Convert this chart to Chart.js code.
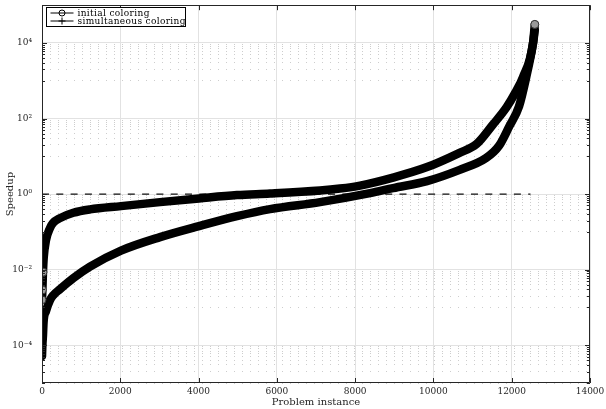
<!DOCTYPE html>
<html>
<head>
<meta charset="utf-8">
<script src="https://cdn.jsdelivr.net/npm/chart.js@4.4.1/dist/chart.umd.min.js"></script>
<style>
  html, body { margin: 0; padding: 0; background: #ffffff; }
  #wrap { width: 606px; height: 409px; }
</style>
</head>
<body>
<div id="wrap"><canvas id="c" width="606" height="409"></canvas></div>
<script>
// ---- data (sorted speedup per problem instance) ----
const instancesInitial = [0, 10, 25, 45, 102, 204, 281, 460, 800, 1226, 2018, 3015, 4011, 4982, 5825, 7103, 7614, 8125, 8968, 9837, 10654, 11102, 11511, 11870, 12085, 12290, 12545, 12590];
const speedupInitial   = [0.0016, 0.0029, 0.0086, 0.0214, 0.060, 0.126, 0.171, 0.231, 0.320, 0.393, 0.481, 0.614, 0.769, 0.941, 1.03, 1.24, 1.40, 1.68, 2.74, 5.19, 12.2, 21.1, 67.3, 200, 470, 1257, 10000, 31000];

const instancesSimultaneous = [0, 10, 25, 40, 102, 204, 289, 460, 800, 1226, 2018, 3015, 4011, 4982, 5825, 7103, 8380, 8968, 9837, 10654, 11344, 11676, 11931, 12187, 12366, 12545, 12590];
const speedupSimultaneous   = [0.000051, 0.00010, 0.000184, 0.000407, 0.000796, 0.00156, 0.00211, 0.00304, 0.00595, 0.0120, 0.0318, 0.0726, 0.142, 0.261, 0.401, 0.614, 1.06, 1.44, 2.21, 4.32, 8.99, 19.0, 60, 210, 1183, 10000, 22100];

const referenceX = [0, 12480];
const referenceY = [1, 1];

const seriesNames = ['initial coloring', 'simultaneous coloring'];
const axisTitleX = 'Problem instance';
const axisTitleY = 'Speedup';

const xTickValues = [0, 2000, 4000, 6000, 8000, 10000, 12000, 14000];
const yMajorTicks = [1e-4, 1e-2, 1, 1e2, 1e4];
const yMajorLabels = ['10\u207B\u2074', '10\u207B\u00B2', '10\u2070', '10\u00B2', '10\u2074'];
const yDecades = [-5, -4, -3, -2, -1, 0, 1, 2, 3, 4];
const ySignificands = [1, 2, 3, 4, 5, 6, 7, 8, 9];

// ---- helpers ----
const toPoints = (xs, ys) => xs.map((x, i) => ({ x: x, y: ys[i] }));
function classify(v) {
  const e = Math.floor(Math.log10(v) + 1e-9);
  const s = Math.round(v / Math.pow(10, e));
  return { e, s };
}
const isMajorY = v => { const c = classify(v); return c.s === 1 && Math.abs(c.e % 2) === 0; };
const isMinorY = v => { const c = classify(v); return Math.abs(c.e % 2) === 1; };
const yTickValues = [];
yDecades.forEach(e => ySignificands.forEach(s => yTickValues.push(Number(s + 'e' + e))));
yTickValues.push(1e5);

const FONT = 'DejaVu Serif';
const INK = '#262626';

const framePlugin = {
  id: 'frame',
  afterDraw(chart) {
    const { ctx, chartArea: a, scales } = chart;
    const x = scales.x, y = scales.y;
    ctx.save();
    ctx.strokeStyle = INK;
    ctx.lineWidth = 1;
    ctx.beginPath();
    ctx.rect(Math.round(a.left) + 0.5, Math.round(a.top) + 0.5, Math.round(a.width) - 1, Math.round(a.height) - 1);
    ctx.stroke();
    // inward tick marks
    ctx.beginPath();
    xTickValues.forEach(v => {
      const px = Math.round(x.getPixelForValue(v)) + 0.5;
      ctx.moveTo(px, a.bottom); ctx.lineTo(px, a.bottom - 5);
      ctx.moveTo(px, a.top); ctx.lineTo(px, a.top + 5);
    });
    yTickValues.forEach(v => {
      let len = 0;
      if (isMajorY(v)) len = 5; else if (isMinorY(v)) len = 3;
      if (!len) return;
      const py = Math.round(y.getPixelForValue(v)) + 0.5;
      ctx.moveTo(a.left, py); ctx.lineTo(a.left + len, py);
      ctx.moveTo(a.right, py); ctx.lineTo(a.right - len, py);
    });
    ctx.stroke();

    // legend box
    const bx = Math.round(a.left) + 4.5, by = Math.round(a.top) + 2.5, bw = 139, bh = 19;
    ctx.fillStyle = '#ffffff';
    ctx.fillRect(bx, by, bw, bh);
    ctx.strokeStyle = '#000000';
    ctx.strokeRect(bx, by, bw, bh);
    const rows = [by + 5.5, by + 13.5];
    ctx.font = '9px "' + FONT + '"';
    try { ctx.letterSpacing = '0.35px'; } catch (e) {}
    ctx.textBaseline = 'middle';
    ctx.textAlign = 'left';
    rows.forEach((ry, i) => {
      ctx.strokeStyle = '#000';
      ctx.lineWidth = 1;
      ctx.beginPath();
      ctx.moveTo(bx + 4, ry); ctx.lineTo(bx + 27, ry);
      ctx.stroke();
      const mx = bx + 15.5;
      ctx.beginPath();
      if (i === 0) {
        ctx.arc(mx, ry, 3, 0, Math.PI * 2);
      } else {
        ctx.moveTo(mx - 3.5, ry); ctx.lineTo(mx + 3.5, ry);
        ctx.moveTo(mx, ry - 3.5); ctx.lineTo(mx, ry + 3.5);
      }
      ctx.stroke();
      ctx.fillStyle = '#000';
      ctx.fillText(seriesNames[i], bx + 31, ry + 0.5);
    });
    ctx.restore();
  }
};

const endMarker = n => c => (c.dataIndex < 3 || c.dataIndex === n - 1) ? 4 : 0;

new Chart(document.getElementById('c').getContext('2d'), {
  type: 'line',
  data: {
    datasets: [
      {
        label: seriesNames[0],
        data: toPoints(instancesInitial, speedupInitial),
        borderColor: '#000000',
        backgroundColor: '#000000',
        borderWidth: 8.5,
        borderCapStyle: 'round',
        borderJoinStyle: 'round',
        cubicInterpolationMode: 'monotone',
        pointStyle: 'circle',
        pointRadius: endMarker(instancesInitial.length),
        pointBorderColor: '#333333',
        pointBackgroundColor: 'rgba(255,255,255,0.6)',
        pointBorderWidth: 1,
        fill: false
      },
      {
        label: seriesNames[1],
        data: toPoints(instancesSimultaneous, speedupSimultaneous),
        borderColor: '#000000',
        backgroundColor: '#000000',
        borderWidth: 8.5,
        borderCapStyle: 'round',
        borderJoinStyle: 'round',
        cubicInterpolationMode: 'monotone',
        pointStyle: 'cross',
        pointRadius: endMarker(instancesSimultaneous.length),
        pointBorderColor: '#000000',
        pointBorderWidth: 1.2,
        fill: false
      },
      {
        label: 'reference',
        data: toPoints(referenceX, referenceY),
        borderColor: '#111111',
        borderWidth: 1.4,
        borderDash: [7, 7.3],
        pointRadius: 0,
        fill: false
      }
    ]
  },
  options: {
    responsive: false,
    animation: false,
    devicePixelRatio: 1,
    layout: { padding: { top: 5, right: 16, left: 0, bottom: 0 } },
    plugins: { legend: { display: false }, tooltip: { enabled: false } },
    scales: {
      x: {
        type: 'linear',
        min: 0,
        max: 14000,
        afterBuildTicks: s => { s.ticks = xTickValues.map(v => ({ value: v })); },
        afterFit: s => { s.height = 26; s.paddingLeft = 0; s.paddingRight = 0; },
        ticks: {
          autoSkip: false, maxRotation: 0, padding: 3, color: INK,
          font: { family: FONT, size: 9 },
          callback: v => String(v)
        },
        grid: { color: '#e2e2e2', lineWidth: 1, drawTicks: false },
        border: { display: false },
        title: {
          display: true, text: axisTitleX, color: INK,
          font: { family: FONT, size: 10 },
          padding: { top: 0, bottom: 1 }
        }
      },
      y: {
        type: 'logarithmic',
        min: 1e-5,
        max: 1e5,
        afterBuildTicks: s => { s.ticks = yTickValues.map(v => ({ value: v })); },
        afterFit: s => { s.width = 42; s.paddingTop = 0; s.paddingBottom = 0; },
        ticks: {
          autoSkip: false, padding: 10, color: INK,
          font: { family: FONT, size: 9 },
          callback: v => {
            const i = yMajorTicks.findIndex(t => Math.abs(Math.log10(t) - Math.log10(v)) < 1e-6);
            return i >= 0 ? yMajorLabels[i] : '';
          }
        },
        grid: {
          drawTicks: false,
          lineWidth: 1,
          color: c => {
            if (!c.tick) return 'rgba(0,0,0,0)';
            if (isMajorY(c.tick.value)) return '#e2e2e2';
            if (isMinorY(c.tick.value)) return '#cdcdcd';
            return 'rgba(0,0,0,0)';
          }
        },
        border: {
          display: false,
          dash: c => (c.tick && isMinorY(c.tick.value)) ? [1, 7] : []
        },
        title: {
          display: true, text: axisTitleY, color: INK,
          font: { family: FONT, size: 10 },
          padding: { top: 4, bottom: 0 }
        }
      }
    }
  },
  plugins: [framePlugin]
});
</script>
</body>
</html>
